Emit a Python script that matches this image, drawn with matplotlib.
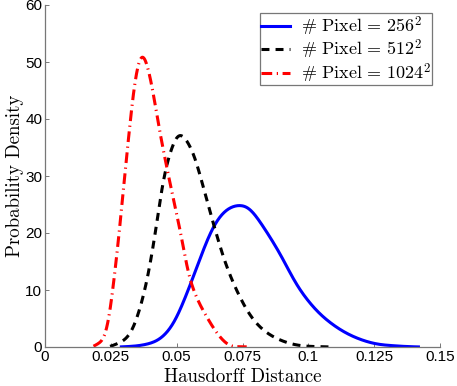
import matplotlib
matplotlib.use('Agg')
import matplotlib.pyplot as plt
import numpy as np

plt.rcParams['mathtext.fontset'] = 'cm'

x_256 = [0.0290, 0.0373, 0.0437, 0.0487, 0.0525, 0.0563, 0.0601, 0.0630, 0.0665,
         0.0703, 0.0745, 0.0778, 0.0829, 0.0892, 0.0956, 0.1019, 0.1082, 0.1158,
         0.1247, 0.1336, 0.1418]
y_256 = [0.0, 0.35, 1.4, 4.0, 7.8, 12.3, 17.0, 20.3, 23.0,
         24.5, 24.9, 24.3, 21.1, 16.4, 10.9, 7.0, 4.3, 2.1,
         0.64, 0.18, 0.0]

x_512 = [0.0247, 0.0323, 0.0373, 0.0411, 0.0449, 0.0487, 0.0515, 0.0563, 0.0601,
         0.0639, 0.069, 0.0753, 0.0804, 0.0867, 0.0956, 0.1082]
y_512 = [0.0, 2.3, 8.8, 17.6, 29.3, 35.7, 37.4, 34.0, 28.1,
         21.7, 14.1, 7.6, 4.1, 1.8, 0.35, 0.0]

x_1024 = [0.0184, 0.0234, 0.0272, 0.031, 0.0342, 0.0369, 0.0399, 0.0437, 0.0475,
          0.0513, 0.0551, 0.0614, 0.069, 0.0766]
y_1024 = [0.0, 3.0, 15.8, 33.4, 46.8, 51.3, 47.4, 37.5, 28.7,
          20.5, 11.8, 5.3, 0.6, 0.0]

labels = [r'$\#\ \mathrm{Pixel}\, =\, 256^2$',
          r'$\#\ \mathrm{Pixel}\, =\, 512^2$',
          r'$\#\ \mathrm{Pixel}\, =\, 1024^2$']

xticks = [0, 0.025, 0.05, 0.075, 0.1, 0.125, 0.15]
xtick_labels = ['0', '0.025', '0.05', '0.075', '0.1', '0.125', '0.15']
yticks = [0, 10, 20, 30, 40, 50, 60]


def smooth(xs, ys, n=400, sigma=0.0012):
    # cubic hermite through the points, then a light gaussian blur of the drawn line
    xs = np.asarray(xs)
    ys = np.asarray(ys)
    xx = np.linspace(xs[0], xs[-1], n)
    out = []
    for t in xx:
        i = np.searchsorted(xs, t) - 1
        i = min(max(i, 0), len(xs) - 2)
        x0, x1 = xs[i], xs[i + 1]
        y0, y1 = ys[i], ys[i + 1]
        m0 = (ys[i + 1] - ys[i - 1]) / (xs[i + 1] - xs[i - 1]) if i > 0 else (y1 - y0) / (x1 - x0)
        m1 = (ys[i + 2] - ys[i]) / (xs[i + 2] - xs[i]) if i + 2 < len(xs) else (y1 - y0) / (x1 - x0)
        h = x1 - x0
        s = (t - x0) / h
        h00 = 2 * s**3 - 3 * s**2 + 1
        h10 = s**3 - 2 * s**2 + s
        h01 = -2 * s**3 + 3 * s**2
        h11 = s**3 - s**2
        out.append(h00 * y0 + h10 * h * m0 + h01 * y1 + h11 * h * m1)
    out = np.array(out)
    dx = xx[1] - xx[0]
    k = int(3 * sigma / dx)
    ker = np.exp(-0.5 * (np.arange(-k, k + 1) * dx / sigma) ** 2)
    ker /= ker.sum()
    padded = np.concatenate([np.full(k, out[0]), out, np.full(k, out[-1])])
    out = np.convolve(padded, ker, mode='valid')
    return xx, np.clip(out, 0, None)


fig = plt.figure(figsize=(4.57, 3.86), dpi=100)
ax = fig.add_axes([45 / 457, 39 / 386, 395 / 457, 342 / 386])

xs, ys = smooth(x_256, y_256, sigma=0.0018)
ax.plot(xs, ys, color='blue', lw=2.2, label=labels[0])
xs, ys = smooth(x_512, y_512)
ax.plot(xs, ys, color='black', lw=2.2, dashes=(2.6, 2.0), label=labels[1])
xs, ys = smooth(x_1024, y_1024, sigma=0.0009)
ax.plot(xs, ys, color='red', lw=2.2, dashes=(3.5, 1.5, 0.4, 1.5), label=labels[2])

ax.set_xlim(0, 0.15)
ax.set_ylim(0, 60)
ax.set_xticks(xticks)
ax.set_xticklabels(xtick_labels)
ax.set_yticks(yticks)

for s in ['top', 'right']:
    ax.spines[s].set_visible(False)
for s in ['left', 'bottom']:
    ax.spines[s].set_color('#777777')
    ax.spines[s].set_linewidth(0.9)

ax.tick_params(direction='in', length=3, width=0.7, color='#777777',
               labelsize=11, pad=2)
for lab in ax.get_xticklabels() + ax.get_yticklabels():
    lab.set_fontfamily('Liberation Sans')

ax.set_xlabel('Hausdorff Distance', fontfamily='cmr10', fontsize=13.6, labelpad=3)
ax.set_ylabel('Probability Density', fontfamily='cmr10', fontsize=13.6, labelpad=1)

leg = ax.legend(loc='upper right', bbox_to_anchor=(1, 1), borderaxespad=0.45,
                fancybox=False, edgecolor='#555555', fontsize=13,
                handlelength=1.6, labelspacing=0.0, borderpad=0.05,
                handletextpad=0.6)
leg.get_frame().set_linewidth(0.9)

fig.savefig('out.png', dpi=100)
